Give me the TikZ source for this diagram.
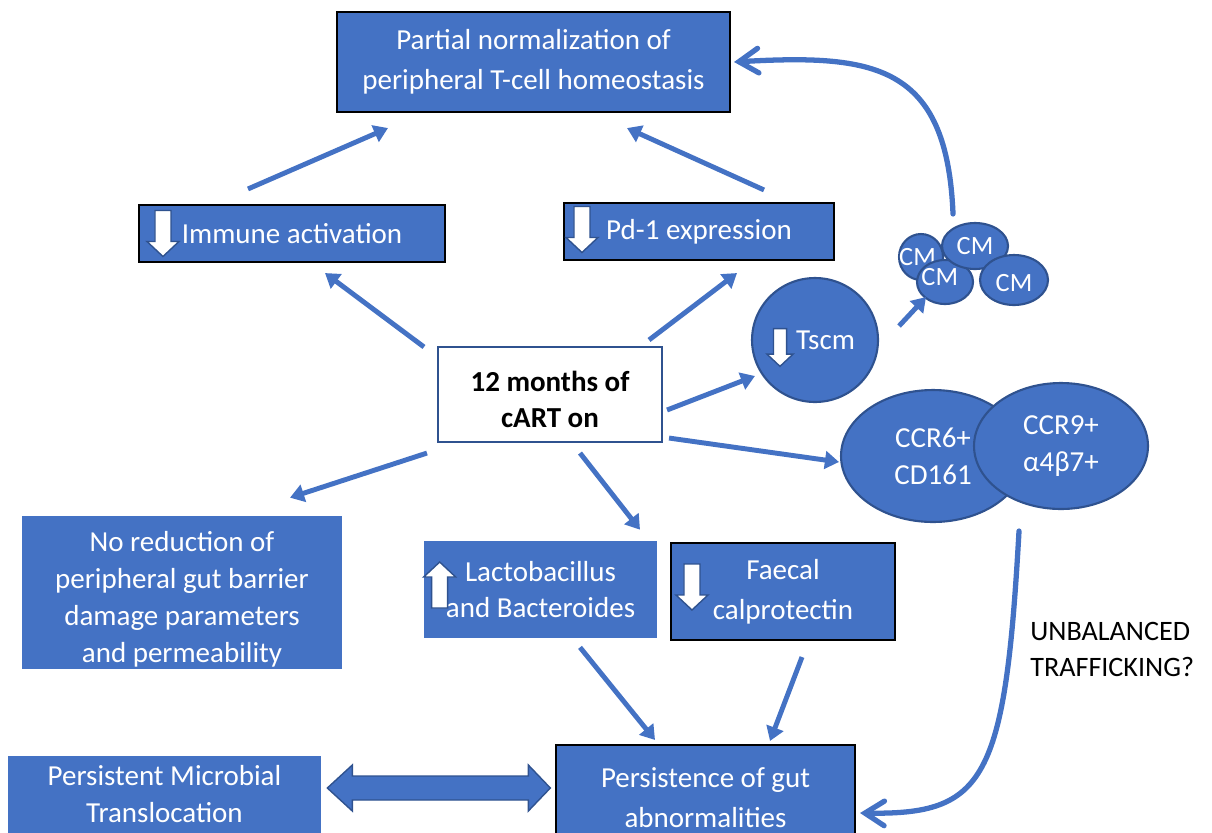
\documentclass[tikz,border=0pt]{standalone}
\usepackage{fontspec}
\setmainfont{Carlito}
\usetikzlibrary{arrows.meta,calc,shapes.geometric}
\definecolor{cblue}{HTML}{4472C4}
\definecolor{cdark}{HTML}{2F528F}
\tikzset{
  box/.style={rectangle,fill=cblue,text=white,align=center,inner sep=2pt,
    font=\fontsize{16.5}{21}\selectfont},
  bbox/.style={box,draw=black,line width=1.2pt,font=\fontsize{16.5}{22.5}\selectfont},
  cell/.style={ellipse,fill=cblue,draw=cdark,line width=1.2pt,inner sep=0pt},
  lbl/.style={text=white,align=center,font=\fontsize{16.5}{21}\selectfont},
  arr/.style={cblue,line width=2.8pt,-{Triangle[length=8pt,width=10pt]}},
  carr/.style={cblue,line width=3pt,line cap=round,
    -{Straight Barb[length=11pt,width=14pt,line cap=round]}},
  dnarrow/.pic={
    \filldraw[fill=white,draw=cdark,line width=0.8pt]
      (-8,-23) -- (8,-23) -- (8,8) -- (16,8) -- (0,23) -- (-16,8) -- (-8,8) -- cycle;
  }
}
\begin{document}
\begin{tikzpicture}[x=0.02cm,y=-0.02cm]
\useasboundingbox (0,0) rectangle (1212,832);
\clip (0,0) rectangle (1212,832);

\node[bbox,minimum width=7.86cm,minimum height=2cm] (top) at (533.5,62)
  {Partial normalization of\\peripheral T-cell homeostasis};
\node[bbox,minimum width=6.12cm,minimum height=1.14cm] (imm) at (292,233.5) {Immune activation};
\node[bbox,minimum width=5.4cm,minimum height=1.14cm] (pd1) at (699,231.5) {Pd-1 expression};
\node[rectangle,draw=cdark,line width=1.2pt,fill=white,
  minimum width=4.48cm,minimum height=1.9cm,
  label={[align=center,yshift=-3pt,font=\bfseries\fontsize{16.5}{20.5}\selectfont]center:12 months of\\cART on}]
  (cart) at (550,394.5) {};

\node[cell,minimum width=2.52cm,minimum height=2.48cm,
  label={[lbl,xshift=6pt]center:Tscm}] (tscm) at (815,340) {};

% CM cluster
\node[cell,minimum width=0.88cm,minimum height=0.92cm,
  label={[lbl,font=\fontsize{15}{18}\selectfont,xshift=-2pt]center:CM}] (cm1) at (921,257) {};
\node[cell,minimum width=1.12cm,minimum height=0.88cm,
  label={[lbl,font=\fontsize{15}{18}\selectfont,xshift=-3pt,yshift=3pt]center:CM}] (cm3) at (945,282) {};
\node[cell,minimum width=1.32cm,minimum height=0.92cm,
  label={[lbl,font=\fontsize{15}{18}\selectfont]center:CM}] (cm2) at (975,246) {};
\node[cell,minimum width=1.36cm,minimum height=1cm,
  label={[lbl,font=\fontsize{15}{18}\selectfont,yshift=-2pt]center:CM}] (cm4) at (1014,280) {};

\node[cell,minimum width=3.68cm,minimum height=2.64cm,
  label={[lbl]center:CCR6+\\CD161}] (ccr6) at (933,456) {};
\node[cell,minimum width=3.48cm,minimum height=2.52cm,
  label={[lbl]center:CCR9+\\α4β7+}] (ccr9) at (1061,446) {};

\node[box,minimum width=6.4cm,minimum height=3.06cm,
  label={[lbl,yshift=-4pt]center:No reduction of\\peripheral gut barrier\\damage parameters\\and permeability}]
  (noredu) at (182,592.5) {};
\node[box,minimum width=4.66cm,minimum height=1.94cm] (lacto) at (540.5,589.5)
  {Lactobacillus\\and Bacteroides};
\node[bbox,minimum width=4.48cm,minimum height=1.94cm] (faecal) at (783,591.5)
  {Faecal\\calprotectin};
\node[bbox,minimum width=5.98cm,minimum height=2.1cm] (persist) at (705.5,797.5)
  {Persistence of gut\\abnormalities};
\node[box,minimum width=6.26cm,minimum height=1.88cm,
  label={[lbl,yshift=5pt]center:Persistent Microbial\\Translocation}] (microb) at (164.5,803) {};
\node[anchor=west,align=left,inner sep=0pt,font=\fontsize{16}{20}\selectfont]
  (unbal) at (1030,649.5) {UNBALANCED\\TRAFFICKING?};

\pic at ($(imm.west)+(25,0)$) {dnarrow};
\pic at ($(pd1.west)+(19,-2)$) {dnarrow};
\pic[scale=0.82] at ($(tscm.center)+(-35,7.5)$) {dnarrow};
\pic[rotate=180] at ($(lacto.west)+(16,-4.5)$) {dnarrow};
\pic at ($(faecal.west)+(22,-4.5)$) {dnarrow};

\draw[arr] ($(imm.north)+(-44,-15)$) -- ($(top.south)+(-145.5,15)$);
\draw[arr] ($(pd1.north)+(65,-12)$) -- ($(top.south)+(93.5,15)$);
\draw[arr] ($(cart.north west)+(-13,1)$) -- ($(imm.south)+(33,10)$);
\draw[arr] ($(cart.north east)+(-14,-6)$) -- ($(pd1.south)+(38,12)$);
\draw[arr] ($(cart.east)+(4,15.5)$) -- ($(tscm.west)+(4,36)$);
\draw[arr] ($(cart.south east)+(6,-5)$) -- ($(ccr6.west)+(-1,6)$);
\draw[arr] ($(cart.south west)+(-10,10)$) -- ($(noredu.north)+(108,-18)$);
\draw[arr] ($(cart.south)+(30,10)$) -- ($(lacto.north)+(99.5,-11)$);
\draw[arr] ($(lacto.south)+(39.5,9)$) -- ($(persist.north)+(-50.5,-4)$);
\draw[arr] ($(faecal.south)+(19,16)$) -- ($(persist.north)+(64.5,-3)$);
\draw[arr] ($(tscm.east)+(20,-14)$) -- ($(cm3.south)+(-19,-8)$);

\draw[carr] ($(cm2.north)+(-22,-8)$) .. controls +(-6,-150) and +(140,-8) .. ($(top.east)+(3,0)$);
\draw[carr] ($(ccr9.south)+(-42,21)$) .. controls +(-14,250) and +(125,2) .. ($(persist.east)+(4,15.5)$);

% two-way block arrow
\filldraw[fill=cblue,draw=cdark,line width=0.8pt]
  ($(microb.east)+(6,-15)$) -- ++(25,-23) -- ++(0,11) -- ++(176,0) -- ++(0,-11)
  -- ++(22,23) -- ++(-22,23) -- ++(0,-11) -- ++(-176,0) -- ++(0,11) -- cycle;
\end{tikzpicture}
\end{document}
